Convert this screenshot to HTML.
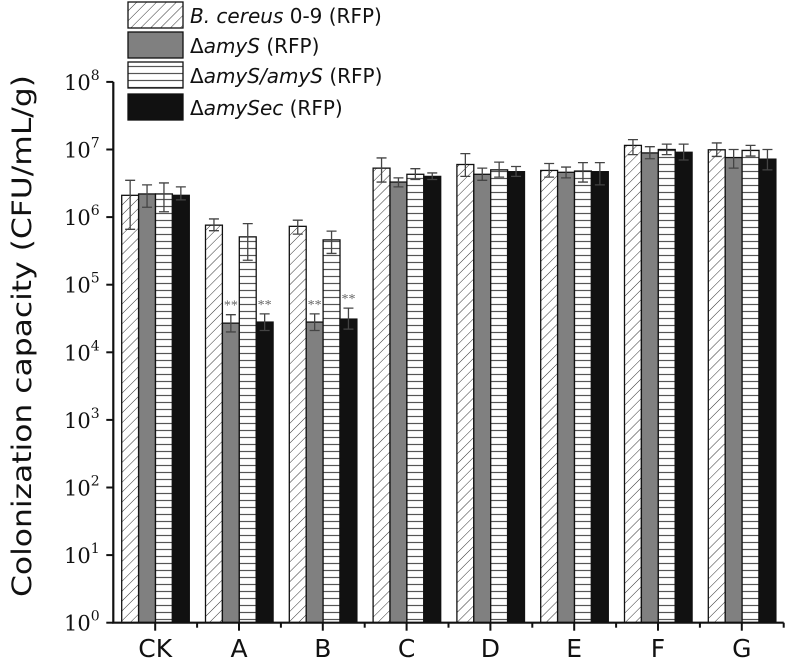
<!DOCTYPE html>
<html><head><meta charset="utf-8"><style>
html,body{margin:0;padding:0;background:#fff;}
svg{display:block;}
</style></head><body>
<svg id="chart" width="786" height="665" viewBox="0 0 786 665" xmlns="http://www.w3.org/2000/svg">
<defs>
<pattern id="diag" patternUnits="userSpaceOnUse" width="7" height="7" patternTransform="rotate(45)">
<rect width="7" height="7" fill="#fff"/><line x1="0" y1="0" x2="0" y2="7" stroke="#333" stroke-width="1"/>
</pattern>
<pattern id="horiz" patternUnits="userSpaceOnUse" width="8" height="7">
<rect width="8" height="7" fill="#fff"/><line x1="0" y1="3.5" x2="8" y2="3.5" stroke="#555" stroke-width="1.2"/>
</pattern>
</defs>
<g id="legend" font-family="DejaVu Sans, Liberation Sans, sans-serif" font-size="20" fill="#111"></g>
<g id="bars"></g>
<g id="axes"></g>
<text transform="translate(31,336) rotate(-90)" text-anchor="middle" font-family="DejaVu Sans, Liberation Sans, sans-serif" font-size="27" fill="#111" textLength="522" lengthAdjust="spacingAndGlyphs">Colonization capacity (CFU/mL/g)</text>
</svg>
<script>
const categories = ["CK","A","B","C","D","E","F","G"];
const seriesNames = ["B. cereus 0-9 (RFP)","ΔamyS (RFP)","ΔamyS/amyS (RFP)","ΔamySec (RFP)"];
const wt     = [2.1e6, 7.6e5, 7.3e5, 5.3e6, 6.0e6, 4.9e6, 1.15e7, 9.9e6];
const wtHi   = [3.5e6, 9.4e5, 9.0e5, 7.5e6, 8.7e6, 6.2e6, 1.4e7, 1.25e7];
const wtLo   = [6.6e5, 6.3e5, 5.6e5, 3.3e6, 4.0e6, 3.9e6, 8.4e6, 7.9e6];
const mut    = [2.2e6, 2.7e4, 2.8e4, 3.3e6, 4.3e6, 4.6e6, 8.9e6, 7.6e6];
const mutHi  = [3.0e6, 3.6e4, 3.7e4, 3.8e6, 5.3e6, 5.5e6, 1.1e7, 1.0e7];
const mutLo  = [1.4e6, 2.0e4, 2.1e4, 2.8e6, 3.5e6, 3.8e6, 7.3e6, 5.3e6];
const comp   = [2.2e6, 5.1e5, 4.6e5, 4.3e6, 5.0e6, 4.8e6, 1.0e7, 9.7e6];
const compHi = [3.2e6, 8.0e5, 6.2e5, 5.2e6, 6.5e6, 6.4e6, 1.2e7, 1.15e7];
const compLo = [1.2e6, 2.3e5, 2.9e5, 3.6e6, 3.9e6, 3.3e6, 8.4e6, 8.0e6];
const ec     = [2.1e6, 2.8e4, 3.1e4, 4.0e6, 4.7e6, 4.7e6, 9.1e6, 7.2e6];
const ecHi   = [2.8e6, 3.7e4, 4.5e4, 4.5e6, 5.6e6, 6.4e6, 1.2e7, 1.0e7];
const ecLo   = [1.8e6, 2.1e4, 2.2e4, 3.6e6, 4.0e6, 3.0e6, 7.0e6, 5.0e6];
const significant = [[false,false,false,false],[false,true,false,true],[false,true,false,true],[false,false,false,false],[false,false,false,false],[false,false,false,false],[false,false,false,false],[false,false,false,false]];
const yTickExps = [0,1,2,3,4,5,6,7,8];

const NS="http://www.w3.org/2000/svg";
const X0=113.3, GW=83.8, Y0=622.7, DEC=67.6, BW=16.9, OFF=8.4;
const fills=["url(#diag)","#808080","url(#horiz)","#111"];
const yScale=v=>Y0-DEC*Math.log10(v);
const xGroup=i=>X0+GW*i;
function mk(tag,attrs,parent){const e=document.createElementNS(NS,tag);for(const k in attrs)e.setAttribute(k,attrs[k]);parent.appendChild(e);return e;}
const barsG=document.getElementById('bars'), axesG=document.getElementById('axes'), legG=document.getElementById('legend');
const vals=[wt,mut,comp,ec], his=[wtHi,mutHi,compHi,ecHi], los=[wtLo,mutLo,compLo,ecLo];
categories.forEach((c,i)=>{
  for(let s=0;s<4;s++){
    const x=xGroup(i)+OFF+s*BW, y=yScale(vals[s][i]);
    const r=mk('rect',{x:x,y:y,width:BW,height:Y0-y,fill:fills[s],stroke:'#111','stroke-width':1.3},barsG);
    
    
    const cx=x+BW/2, yh=yScale(his[s][i]), yl=yScale(los[s][i]);
    const eb=mk('path',{d:`M${cx} ${yh}V${yl}M${cx-5} ${yh}H${cx+5}M${cx-5} ${yl}H${cx+5}`,stroke:'#444','stroke-width':1.3,fill:'none'},barsG);
    
    
    if(significant[i][s]){
      const t=mk('text',{x:cx,y:yScale(his[s][i])-5,'text-anchor':'middle','font-family':'Liberation Serif, serif','font-size':14,fill:'#666'},barsG);
      t.textContent='**';
      
      
    }
  }
  const tk=mk('line',{x1:xGroup(i)+GW/2,x2:xGroup(i)+GW/2,y1:Y0,y2:Y0+8,stroke:'#111','stroke-width':2},axesG);
  
  
  const mt=mk('line',{x1:xGroup(i+1),x2:xGroup(i+1),y1:Y0,y2:Y0+5,stroke:'#111','stroke-width':2},axesG);
  
  
  const lb=mk('text',{x:xGroup(i)+GW/2,y:657,'text-anchor':'middle','font-family':'DejaVu Sans, Liberation Sans, sans-serif','font-size':25,fill:'#111'},axesG);
  lb.textContent=c;
  
  
});
const ax=mk('path',{d:`M${X0} ${yScale(1e8)}V${Y0}H${xGroup(8)}`,stroke:'#111','stroke-width':2.2,fill:'none'},axesG);


yTickExps.forEach(e=>{
  const y=yScale(Math.pow(10,e));
  const t=mk('line',{x1:X0-7,x2:X0,y1:y,y2:y,stroke:'#111','stroke-width':2},axesG);
  
  
  const tx=mk('text',{x:64,y:y+8,'font-family':'DejaVu Serif, Liberation Serif, serif','font-size':21,fill:'#111'},axesG);
  tx.textContent='10';
  
  
  const sp=mk('tspan',{dy:-10,'font-size':14},tx);
  sp.textContent=String(e);
});
const legY=[2,32,62,94];
const legHTML=[
 ['<tspan font-style="italic">B. cereus</tspan>  0-9 (RFP)'],
 ['Δ<tspan font-style="italic">amyS</tspan> (RFP)'],
 ['Δ<tspan font-style="italic">amyS/amyS</tspan> (RFP)'],
 ['Δ<tspan font-style="italic">amySec</tspan> (RFP)']];
seriesNames.forEach((n,s)=>{
  const r=mk('rect',{x:128,y:legY[s],width:55,height:26,fill:fills[s],stroke:'#111','stroke-width':1.3},legG);
  
  
  const t=mk('text',{x:190,y:legY[s]+21,'xml:space':'preserve'},legG);
  t.innerHTML=legHTML[s][0];
  
  
});
</script>
</body></html>
